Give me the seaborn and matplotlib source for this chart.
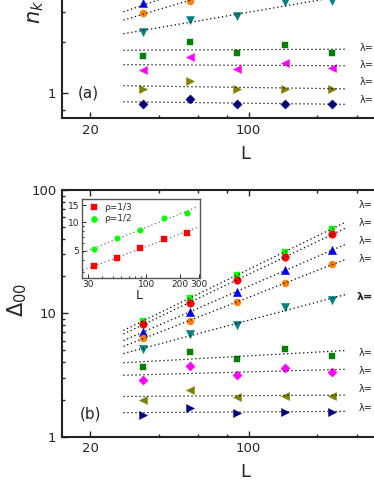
import numpy as np
import pandas as pd
import matplotlib
matplotlib.use("Agg")
import matplotlib.pyplot as plt
import seaborn as sns
from matplotlib.ticker import FixedLocator, FixedFormatter, NullFormatter

# Fibonacci lattice sizes
L = [34, 55, 89, 144, 233]

# panel (a): lower series are fully visible, upper ones leave the frame
a_navy = [0.86, 0.925, 0.86, 0.86, 0.86]
a_olive = [1.05, 1.18, 1.06, 1.06, 1.06]
a_magenta = [1.37, 1.64, 1.39, 1.50, 1.41]
a_green = [1.66, 2.01, 1.71, 1.93, 1.72]
a_teal = [2.28, 2.69, 2.84, 3.45, 3.50]
a_orange = [2.96, 3.49]
a_blue = [3.38]
# guide lines of the cut-off (a) series: value at L=28, exponent
a_orange_fit = (2.69, 0.40)
a_blue_fit = (3.01, 0.45)
a_label_y = [1.85, 1.47, 1.16, 0.904]

# panel (b)
b_lime = [8.65, 13.35, 20.4, 31.3, 48.7]
b_red = [8.13, 12.2, 18.6, 28.4, 43.8]
b_blue = [7.08, 10.2, 15.0, 22.3, 32.5]
b_orange = [6.3, 8.65, 12.3, 17.5, 25.0]
b_teal = [5.1, 6.75, 8.0, 11.2, 12.8]
b_green = [3.65, 4.88, 4.28, 5.16, 4.53]
b_magenta = [2.88, 3.76, 3.18, 3.60, 3.32]
b_olive = [1.98, 2.39, 2.10, 2.14, 2.15]
b_navy = [1.50, 1.70, 1.556, 1.585, 1.594]
b_label_y = [75.2, 54.4, 38.5, 27.5, 13.45, 4.73, 3.40, 2.42, 1.72]

# inset
in_r13 = [3.43, 4.20, 5.40, 6.66, 7.77]
in_r12 = [5.22, 6.77, 8.16, 11.07, 12.5]

sns.set_style("ticks")
plt.rcParams['font.family'] = ['DejaVu Sans']
plt.rcParams['mathtext.fontset'] = 'dejavusans'

fig = plt.figure(figsize=(3.74, 4.84), dpi=100)
W, H = 374.0, 484.0
ax_a = fig.add_axes([62 / W, (H - 118.3) / H, 345 / W, 195 / H])
ax_b = fig.add_axes([62 / W, (H - 436.7) / H, 345 / W, 246.7 / H])
ax_in = fig.add_axes([81.5 / W, (H - 278) / H, 118.5 / W, 79 / H])

dot = (0, (1, 2.2))
fit_x = np.array([28, 270])


def fit_line(ax, y):
    k, b = np.polyfit(np.log10(L[:len(y)]), np.log10(y), 1)
    ax.plot(fit_x, 10 ** (b + k * np.log10(fit_x)), ls=dot, color='k', lw=0.9, zorder=3)


def pts(ax, y, marker, color, s):
    sns.scatterplot(x=L[:len(y)], y=y, marker=marker, color=color, s=s,
                    edgecolor=color, linewidth=0.3, ax=ax, zorder=2)


# ---- panel (a)
a_series = [(a_navy, 'D', '#000080', 22), (a_olive, '>', '#808000', 34),
            (a_magenta, '<', '#ff00ff', 34), (a_green, 's', '#008000', 20),
            (a_teal, 'v', '#008080', 34)]
for y, m, c, s in a_series:
    pts(ax_a, y, m, c, s)
    fit_line(ax_a, y)
pts(ax_a, a_orange, 'o', '#ff8000', 26)
pts(ax_a, a_blue, '^', '#0000ff', 34)
for amp, ex in [a_orange_fit, a_blue_fit]:
    ax_a.plot(fit_x, amp * (fit_x / 28.0) ** ex, ls=dot, color='k', lw=0.9, zorder=3)
for yv in a_label_y:
    ax_a.text(310, yv, "λ=", fontsize=7, va='center', ha='left')
ax_a.set_ylim(0.71, 10)
ax_a.text(19.5, 1.0, "(a)", fontsize=11, ha='center', va='center')

# ---- panel (b)
b_series = [(b_lime, 's', '#00ff00', 22), (b_red, 'o', '#ff0000', 30),
            (b_blue, '^', '#0000ff', 36), (b_orange, 'o', '#ff8000', 26),
            (b_teal, 'v', '#008080', 36), (b_green, 's', '#008000', 22),
            (b_magenta, 'D', '#ff00ff', 22), (b_olive, '<', '#808000', 34),
            (b_navy, '>', '#000080', 34)]
for y, m, c, s in b_series:
    pts(ax_b, y, m, c, s)
    fit_line(ax_b, y)
for i, yv in enumerate(b_label_y):
    if i == 4:
        ax_b.text(300, yv, "λ=", fontsize=8, fontweight='bold', va='center', ha='left')
    else:
        ax_b.text(306, yv, "λ=", fontsize=7, va='center', ha='left')
ax_b.set_ylim(1, 100)
ax_b.text(20, 1.52, "(b)", fontsize=11, ha='center', va='center')

for ax, ly in [(ax_a, -0.139), (ax_b, -0.108)]:
    ax.set_xscale('log')
    ax.set_yscale('log')
    ax.set_xlim(15, 500)
    ax.xaxis.set_major_locator(FixedLocator([20, 100]))
    ax.xaxis.set_major_formatter(FixedFormatter(["20", "100"]))
    ax.xaxis.set_minor_locator(FixedLocator([40, 60, 80, 200, 300]))
    ax.xaxis.set_minor_formatter(NullFormatter())
    ax.tick_params(which='both', direction='in', top=True, right=True,
                   labelsize=9.5, width=1.0)
    ax.tick_params(which='major', length=4.5, pad=4)
    ax.tick_params(which='minor', length=2.5)
    for sp in ax.spines.values():
        sp.set_linewidth(1.5)
        sp.set_color('#222222')
    ax.set_xlabel("L", fontsize=13)
    ax.xaxis.set_label_coords(0.531, ly)

ax_a.yaxis.set_major_locator(FixedLocator([1, 10]))
ax_a.yaxis.set_major_formatter(FixedFormatter(["1", "10"]))
ax_a.yaxis.set_minor_locator(FixedLocator([0.8, 2, 3, 4, 5, 6, 7, 8, 9]))
ax_a.yaxis.set_minor_formatter(NullFormatter())
ax_b.yaxis.set_major_locator(FixedLocator([1, 10, 100]))
ax_b.yaxis.set_major_formatter(FixedFormatter(["1", "10", "100"]))
ax_b.yaxis.set_minor_locator(FixedLocator([m * d for d in (1, 10) for m in range(2, 10)]))
ax_b.yaxis.set_minor_formatter(NullFormatter())

fig.text(35.5 / W, (H - 24) / H, r"$n_{k=1}$", rotation=90, fontsize=15,
         ha='center', va='bottom')
fig.text(17.5 / W, (H - 299.5) / H, r"$\Delta_{00}$", rotation=90, fontsize=15,
         ha='center', va='center')

# ---- inset
in_fit = np.array([27, 285])
for y, m, c, lab in [(in_r13, 's', '#ff0000', "ρ=1/3"), (in_r12, 'o', '#00ff00', "ρ=1/2")]:
    sns.scatterplot(x=L, y=y, marker=m, color=c, s=16, edgecolor=c, linewidth=0.3,
                    ax=ax_in, label=lab, zorder=2)
    k, b = np.polyfit(np.log10(L), np.log10(y), 1)
    ax_in.plot(in_fit, 10 ** (b + k * np.log10(in_fit)), ls=(0, (1, 2.5)),
               color='#555555', lw=0.8, zorder=1)
ax_in.set_xscale('log')
ax_in.set_yscale('log')
ax_in.set_xlim(26.3, 305)
ax_in.set_ylim(2.6, 17.4)
ax_in.xaxis.set_major_locator(FixedLocator([30, 100, 200, 300]))
ax_in.xaxis.set_major_formatter(FixedFormatter(["30", "100", "200", "300"]))
ax_in.xaxis.set_minor_locator(FixedLocator([40, 50, 60, 70, 80, 90]))
ax_in.xaxis.set_minor_formatter(NullFormatter())
ax_in.yaxis.set_major_locator(FixedLocator([5, 10, 15]))
ax_in.yaxis.set_major_formatter(FixedFormatter(["5", "10", "15"]))
ax_in.yaxis.set_minor_locator(FixedLocator([3, 4, 6, 7, 8, 9]))
ax_in.yaxis.set_minor_formatter(NullFormatter())
ax_in.tick_params(which='both', direction='in', labelsize=6.5, pad=1.5, width=0.7)
ax_in.tick_params(which='major', length=3)
ax_in.tick_params(which='minor', length=1.5)
for sp in ax_in.spines.values():
    sp.set_linewidth(1.0)
    sp.set_color('#555555')
ax_in.set_xlabel("L", fontsize=9)
ax_in.xaxis.set_label_coords(0.49, -0.14)
ax_in.legend(loc='upper left', frameon=False, fontsize=6.5, handletextpad=0.1,
             borderaxespad=0.2, labelspacing=0.3, borderpad=0.2, markerscale=1.1)

fig.savefig("out.png", dpi=100)
